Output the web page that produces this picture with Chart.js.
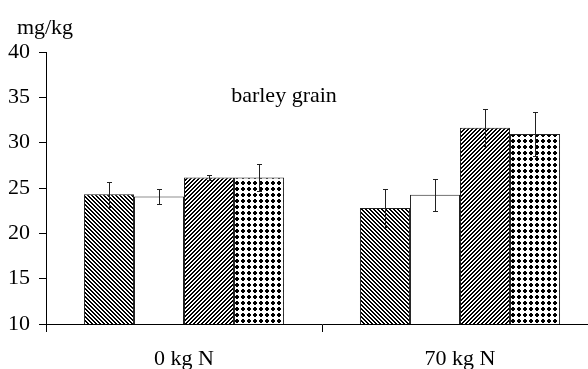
<!DOCTYPE html>
<html>
<head>
<meta charset="utf-8">
<script src="https://cdn.jsdelivr.net/npm/chart.js@4"></script>
<style>
  html, body { margin: 0; padding: 0; background: #fff; overflow: hidden; }
</style>
</head>
<body>
<canvas id="grafico" width="600" height="369"></canvas>
<script>
const categorias = ['0 kg N', '70 kg N'];

// valores medios das quatro series (mg/kg)
const serieA = [24.3, 22.8];
const serieB = [24.05, 24.25];
const serieC = [26.15, 31.65];
const serieD = [26.15, 30.95];

// desvios (barras de erro)
const erroA = [1.35, 2.05];
const erroB = [0.85, 1.75];
const erroC = [0.32, 2.05];
const erroD = [1.45, 2.45];

const erros = [erroA, erroB, erroC, erroD];
const fonte = { family: '"Liberation Serif", "Times New Roman", serif', size: 22 };

const ctx = document.getElementById('grafico').getContext('2d');

function criarPadrao(tipo) {
  const tam = tipo === 'pontos' ? 6 : 4;
  const c = document.createElement('canvas');
  c.width = tam;
  c.height = tam;
  const p = c.getContext('2d');
  p.fillStyle = '#fff';
  p.fillRect(0, 0, tam, tam);
  p.fillStyle = '#000';

  for (let x = 0; x < tam; x++) {
    for (let y = 0; y < tam; y++) {
      let preto = false;
      if (tipo === 'contra') preto = ((x - y + 8) % 4) < 2;
      if (tipo === 'barra') preto = ((x + y) % 4) < 2;
      if (tipo === 'pontos') {
        const dx = Math.abs(x - 2.5), dy = Math.abs(y - 2.5);
        preto = dx < 2 && dy < 2 && !(dx > 1 && dy > 1);
      }
      if (preto) p.fillRect(x, y, 1, 1);
    }
  }
  return ctx.createPattern(c, 'repeat');
}

// barras de erro desenhadas sobre as barras
const pluginErros = {
  id: 'erros',
  afterDatasetsDraw(chart) {
    const c = chart.ctx;
    const escalaY = chart.scales.y;
    c.save();
    c.strokeStyle = '#222';
    c.lineWidth = 1;
    chart.data.datasets.forEach((ds, i) => {
      chart.getDatasetMeta(i).data.forEach((barra, j) => {
        const v = ds.data[j];
        const e = erros[i][j];
        const x = Math.round(barra.x) + 0.5;
        const yTopo = Math.round(escalaY.getPixelForValue(v + e)) + 0.5;
        const yBase = Math.round(escalaY.getPixelForValue(v - e)) + 0.5;
        c.beginPath();
        c.moveTo(x, yTopo);
        c.lineTo(x, yBase);
        c.moveTo(x - 2.5, yTopo);
        c.lineTo(x + 2.5, yTopo);
        c.moveTo(x - 2.5, yBase);
        c.lineTo(x + 2.5, yBase);
        c.stroke();
      });
    });
    c.restore();
  }
};

// textos: unidade e titulo interno
const pluginTextos = {
  id: 'textos',
  afterDraw(chart) {
    const c = chart.ctx;
    const area = chart.chartArea;
    c.save();
    c.fillStyle = '#000';
    c.font = `${fonte.size}px ${fonte.family}`;
    c.textAlign = 'center';
    c.textBaseline = 'middle';
    c.fillText('mg/kg', area.left - 1, area.top - 24);
    c.fillText('barley grain', area.left + 238, area.top + 44);
    c.restore();
  }
};

new Chart(ctx, {
  type: 'bar',
  data: {
    labels: categorias,
    datasets: [
      { data: serieA, backgroundColor: criarPadrao('contra') },
      { data: serieB, backgroundColor: '#fff' },
      { data: serieC, backgroundColor: criarPadrao('barra') },
      { data: serieD, backgroundColor: criarPadrao('pontos') }
    ].map(ds => Object.assign(ds, {
      borderColor: '#222',
      borderWidth: 1,
      categoryPercentage: 0.725,
      barPercentage: 1
    }))
  },
  options: {
    responsive: false,
    animation: false,
    layout: { padding: { top: 52, right: 2 } },
    plugins: {
      legend: { display: false },
      tooltip: { enabled: false }
    },
    scales: {
      x: {
        grid: { drawOnChartArea: false, offset: true, tickLength: 8, color: '#000' },
        border: { color: '#000' },
        ticks: { font: fonte, color: '#000', padding: 14 },
        afterFit(s) { s.height = 45; }
      },
      y: {
        min: 10,
        max: 40,
        ticks: { stepSize: 5, font: fonte, color: '#000', padding: 9 },
        grid: { drawOnChartArea: false, tickLength: 7, color: '#000' },
        border: { color: '#000' },
        afterFit(s) { s.width = 46; }
      }
    }
  },
  plugins: [pluginErros, pluginTextos]
});
</script>
</body>
</html>
